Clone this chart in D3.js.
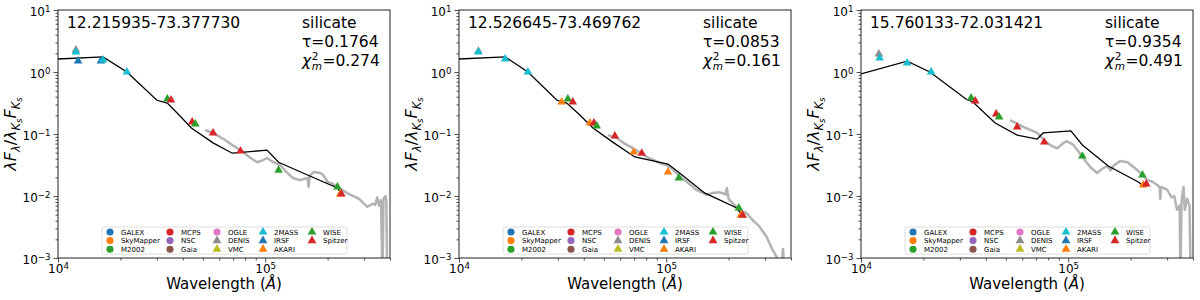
<!DOCTYPE html>
<html>
<head>
<meta charset="utf-8">
<script src="https://cdn.jsdelivr.net/npm/d3@7"></script>
<style>
  body { margin: 0; background: #fff; }
  text { font-family: "DejaVu Sans", sans-serif; }
</style>
</head>
<body>
<svg id="chart" width="1200" height="300"></svg>
<script>
// source labels and fit results
var sourceNames = ["12.215935-73.377730", "12.526645-73.469762", "15.760133-72.031421"];
var dustTypes = ["silicate", "silicate", "silicate"];
var tauValues = ["0.1764", "0.0853", "0.9354"];
var chiValues = ["0.274", "0.161", "0.491"];

// best fit model, [wavelength (A), normalised flux]
var model1 = [[1e4,1.62],[1.65e4,1.75],[2.15e4,1.0],[3.0e4,0.35],[3.37e4,0.316],[3.88e4,0.195],[4.4e4,0.125],
  [5.6e4,0.072],[6.93e4,0.049],[1.02e5,0.055],[1.16e5,0.035],[1.6e5,0.0218],[2.23e5,0.0135],[2.35e5,0.0104]];
var model2 = [[1e4,1.62],[1.67e4,1.75],[2.15e4,1.0],[2.97e4,0.35],[3.31e4,0.316],[3.83e4,0.202],[4.43e4,0.125],
  [5.52e4,0.074],[7.05e4,0.0426],[1.02e5,0.0328],[1.16e5,0.0235],[1.53e5,0.0112],[2.19e5,0.0064],[2.34e5,0.00476]];
var model3 = [[1e4,0.93],[1.67e4,1.5],[2.15e4,1.0],[3.21e4,0.367],[3.47e4,0.328],[4.44e4,0.15],[5.67e4,0.096],
  [7.08e4,0.083],[7.57e4,0.104],[1.03e5,0.112],[1.17e5,0.0665],[1.56e5,0.0305],[2.18e5,0.0168],[2.33e5,0.014]];

// IRS spectra
var spec1 = [[5.13e4,0.116],[5.6e4,0.104],[6.4e4,0.08],[7.0e4,0.065],[7.6e4,0.055],[8.5e4,0.041],[9.15e4,0.035],
  [9.6e4,0.037],[1.02e5,0.041],[1.08e5,0.036],[1.18e5,0.0316],[1.27e5,0.024],[1.36e5,0.0195],[1.47e5,0.018],
  [1.55e5,0.019],[1.6e5,0.0195],[1.62e5,0.014],[1.64e5,0.021],[1.71e5,0.0244],[1.84e5,0.0235],[1.9e5,0.022],
  [2.0e5,0.0168],[2.1e5,0.016],[2.23e5,0.014],[2.4e5,0.012],[2.58e5,0.0104],[2.75e5,0.0095],[2.88e5,0.0086],
  [3.11e5,0.0067],[3.3e5,0.0075],[3.4e5,0.0072],[3.47e5,0.0095],[3.55e5,0.007],[3.62e5,0.0085],[3.68e5,0.0004],
  [3.72e5,0.009],[3.8e5,0.01],[3.84e5,0.0085],[3.88e5,0.0004]];
var spec2 = [[5.23e4,0.096],[5.77e4,0.086],[6.3e4,0.07],[6.9e4,0.059],[7.5e4,0.05],[8.06e4,0.0426],[8.7e4,0.038],
  [9.31e4,0.034],[1.0e5,0.0316],[1.06e5,0.028],[1.12e5,0.0235],[1.2e5,0.019],[1.26e5,0.0168],[1.33e5,0.0145],
  [1.4e5,0.0125],[1.5e5,0.0112],[1.57e5,0.0104],[1.67e5,0.0112],[1.78e5,0.0115],[1.87e5,0.0112],[1.93e5,0.0105],
  [1.96e5,0.0135],[2.0e5,0.009],[2.09e5,0.0077],[2.2e5,0.0065],[2.26e5,0.0059],[2.44e5,0.0053],[2.61e5,0.0041],
  [2.82e5,0.0032],[3.05e5,0.0022],[3.26e5,0.00135],[3.41e5,0.00104],[3.5e5,0.0009],[3.62e5,0.0009],
  [3.66e5,0.0014],[3.7e5,0.0008]];
var spec3 = [[5.25e4,0.168],[6.07e4,0.13],[7.08e4,0.104],[7.5e4,0.085],[7.92e4,0.072],[8.4e4,0.063],[8.85e4,0.059],
  [9.3e4,0.068],[9.78e4,0.077],[1.02e5,0.072],[1.06e5,0.0665],[1.12e5,0.052],[1.18e5,0.041],[1.28e5,0.029],
  [1.38e5,0.0235],[1.45e5,0.027],[1.54e5,0.0305],[1.6e5,0.026],[1.66e5,0.031],[1.78e5,0.0367],[1.93e5,0.035],
  [2.05e5,0.03],[2.15e5,0.0263],[2.41e5,0.018],[2.55e5,0.017],[2.69e5,0.015],[2.76e5,0.014],[2.78e5,0.009],
  [2.8e5,0.014],[3.01e5,0.0125],[3.15e5,0.0095],[3.25e5,0.01],[3.35e5,0.006],[3.45e5,0.007],[3.48e5,0.0004],
  [3.52e5,0.008],[3.6e5,0.014],[3.65e5,0.006],[3.75e5,0.009],[3.85e5,0.007],[3.9e5,0.0004]];

// photometry, [survey, wavelength, flux]
var phot1 = [["DENIS",1.22e4,2.26],["2MASS",1.22e4,2.1],["IRSF",1.25e4,1.5],["IRSF",1.61e4,1.5],["2MASS",1.65e4,1.56],
  ["2MASS",2.15e4,1.0],["WISE",3.37e4,0.367],["Spitzer",3.51e4,0.353],["Spitzer",4.44e4,0.156],["WISE",4.6e4,0.145],
  ["Spitzer",5.6e4,0.104],["Spitzer",7.6e4,0.053],["WISE",1.16e5,0.026],["WISE",2.23e5,0.014],
  ["AKARI",2.3e5,0.0108],["Spitzer",2.33e5,0.0108]];
var phot2 = [["DENIS",1.24e4,2.17],["2MASS",1.24e4,2.1],["2MASS",1.67e4,1.62],["2MASS",2.15e4,1.0],["AKARI",3.13e4,0.328],
  ["WISE",3.35e4,0.367],["Spitzer",3.54e4,0.328],["AKARI",4.28e4,0.15],["Spitzer",4.48e4,0.15],["WISE",4.62e4,0.135],
  ["Spitzer",5.65e4,0.093],["AKARI",6.97e4,0.051],["Spitzer",7.62e4,0.049],["AKARI",1.02e5,0.0244],
  ["WISE",1.15e5,0.0195],["WISE",2.24e5,0.0064],["AKARI",2.29e5,0.0049],["Spitzer",2.34e5,0.0049]];
var phot3 = [["DENIS",1.22e4,1.95],["2MASS",1.23e4,1.68],["2MASS",1.67e4,1.4],["2MASS",2.18e4,1.0],["WISE",3.4e4,0.38],
  ["Spitzer",3.56e4,0.34],["Spitzer",4.49e4,0.21],["WISE",4.64e4,0.188],["Spitzer",5.67e4,0.13],["Spitzer",7.66e4,0.074],
  ["WISE",1.17e5,0.044],["WISE",2.28e5,0.0218],["AKARI",2.3e5,0.015],["Spitzer",2.38e5,0.0156]];

// legend entries
var surveys = ["GALEX","SkyMapper","M2002","MCPS","NSC","Gaia","OGLE","DENIS","VMC","2MASS","IRSF","AKARI","WISE","Spitzer"];
var surveyColors = ["#1f77b4","#ff7f0e","#2ca02c","#d62728","#9467bd","#8c564b","#e377c2",
  "#8c8c8c","#bcbd22","#17becf","#1f77b4","#ff7f0e","#2ca02c","#d62728"];
var surveyShapes = ["circle","circle","circle","circle","circle","circle","circle",
  "triangle","triangle","triangle","triangle","triangle","triangle","triangle"];

// ticks
var xMajor = [1e4, 1e5];
var xMinor = [2e4,3e4,4e4,5e4,6e4,7e4,8e4,9e4,2e5,3e5,4e5];
var yMajor = [1e-3, 1e-2, 1e-1, 1, 10];
var yMinor = [];
[1e-3, 1e-2, 1e-1, 1].forEach(function(b) { for (var k = 2; k <= 9; k++) yMinor.push(b * k); });

var models = [model1, model2, model3];
var spectra = [spec1, spec2, spec3];
var phots = [phot1, phot2, phot3];

var panelLeft = [58, 459, 861];
var panelTop = 10;
var width = 332, height = 248;

var svg = d3.select("#chart");

var x = d3.scaleLog().domain([1e4, 4e5]).range([0, width]);
var y = d3.scaleLog().domain([1e-3, 10]).range([height, 0]);

var line = d3.line().x(function(d) { return x(d[0]); }).y(function(d) { return y(d[1]); });

function supLabel(el, d) {
  var e = Math.round(Math.log10(d));
  el.text(null);
  el.append("tspan").text("10");
  el.append("tspan").attr("dy", "-0.45em").attr("font-size", "0.72em").text(String(e).replace("-", "\u2212"));
}

function markerPath(shape, size) {
  var sym = shape == "circle" ? d3.symbolCircle : d3.symbolTriangle;
  return d3.symbol().type(sym).size(size)();
}

panelLeft.forEach(function(left, i) {
  var g = svg.append("g").attr("transform", "translate(" + left + "," + panelTop + ")");

  g.append("clipPath").attr("id", "clip" + i)
    .append("rect").attr("width", width).attr("height", height);

  var plot = g.append("g").attr("clip-path", "url(#clip" + i + ")");

  plot.append("path")
    .datum(spectra[i])
    .attr("d", line)
    .attr("fill", "none")
    .attr("stroke", "#b3b3b3")
    .attr("stroke-width", 2.5)
    .attr("stroke-linejoin", "round");

  plot.append("path")
    .datum(models[i])
    .attr("d", line)
    .attr("fill", "none")
    .attr("stroke", "#000")
    .attr("stroke-width", 1.3);

  plot.selectAll(".pt")
    .data(phots[i])
    .enter().append("path")
    .attr("class", "pt")
    .attr("transform", function(d) { return "translate(" + x(d[1]) + "," + y(d[2]) + ")"; })
    .attr("d", markerPath("triangle", 32))
    .attr("fill", function(d) { return surveyColors[surveys.indexOf(d[0])]; });

  // axes
  var xa = g.append("g").attr("transform", "translate(0," + height + ")")
    .call(d3.axisBottom(x).tickValues(xMinor).tickSize(2.5).tickFormat(""));
  xa.select(".domain").remove();
  var xb = g.append("g").attr("transform", "translate(0," + height + ")")
    .call(d3.axisBottom(x).tickValues(xMajor).tickSize(4.5).tickPadding(2).tickFormat(""));
  xb.select(".domain").remove();
  xb.attr("font-size", 12).attr("font-family", "DejaVu Sans");
  xb.selectAll(".tick text").attr("fill", "#000").each(function(d) { supLabel(d3.select(this), d); });

  var ya = g.append("g").call(d3.axisLeft(y).tickValues(yMinor).tickSize(2.5).tickFormat(""));
  ya.select(".domain").remove();
  var yb = g.append("g").call(d3.axisLeft(y).tickValues(yMajor).tickSize(4.5).tickPadding(3).tickFormat(""));
  yb.select(".domain").remove();
  yb.attr("font-size", 12).attr("font-family", "DejaVu Sans");
  yb.selectAll(".tick text").attr("fill", "#000").attr("dy", "0.45em").each(function(d) { supLabel(d3.select(this), d); });

  g.selectAll(".tick line").attr("stroke", "#222").attr("stroke-width", 0.8);

  g.append("rect")
    .attr("width", width).attr("height", height)
    .attr("fill", "none").attr("stroke", "#222").attr("stroke-width", 1);

  // axis labels
  var xl = g.append("text")
    .attr("x", width / 2).attr("y", height + 31)
    .attr("text-anchor", "middle").attr("font-size", 15);
  xl.append("tspan").text("Wavelength (");
  xl.append("tspan").attr("font-style", "italic").text("\u00c5");
  xl.append("tspan").text(")");

  var yl = g.append("text")
    .attr("transform", "translate(-42," + (height / 2) + ") rotate(-90)")
    .attr("text-anchor", "middle").attr("font-size", 16);
  yl.append("tspan").attr("font-style", "italic").text("\u03bbF");
  yl.append("tspan").attr("font-style", "italic").attr("font-size", 11.5).attr("dy", 4).text("\u03bb");
  yl.append("tspan").attr("dy", -4).text("/");
  yl.append("tspan").attr("font-style", "italic").text("\u03bb");
  yl.append("tspan").attr("font-style", "italic").attr("font-size", 11.5).attr("dy", 4).text("K");
  yl.append("tspan").attr("font-style", "italic").attr("font-size", 8.5).attr("dy", 2).text("s");
  yl.append("tspan").attr("font-style", "italic").attr("dy", -6).text("F");
  yl.append("tspan").attr("font-style", "italic").attr("font-size", 11.5).attr("dy", 4).text("K");
  yl.append("tspan").attr("font-style", "italic").attr("font-size", 8.5).attr("dy", 2).text("s");

  // annotations
  var fs = 15.5;
  g.append("text").attr("x", 9).attr("y", 18).attr("font-size", fs).text(sourceNames[i]);
  g.append("text").attr("x", 244).attr("y", 18).attr("font-size", fs).text(dustTypes[i]);
  g.append("text").attr("x", 244).attr("y", 37).attr("font-size", fs).text("\u03c4=" + tauValues[i]);

  var chi = g.append("text").attr("x", 244).attr("y", 56).attr("font-size", fs)
    .attr("font-style", "italic").text("\u03c7");
  var cw = chi.node().getComputedTextLength();
  g.append("text").attr("x", 244 + cw + 0.5).attr("y", 49.5).attr("font-size", 10.5).text("2");
  var sub = g.append("text").attr("x", 244 + cw + 0.5).attr("y", 59.5).attr("font-size", 10.5)
    .attr("font-style", "italic").text("m");
  var sw = sub.node().getComputedTextLength();
  g.append("text").attr("x", 244 + cw + sw + 1).attr("y", 56).attr("font-size", fs).text("=" + chiValues[i]);

  // legend
  var lg = g.append("g").attr("transform", "translate(44,217)");
  lg.append("rect").attr("width", 245).attr("height", 27).attr("rx", 2)
    .attr("fill", "#fff").attr("fill-opacity", 0.8).attr("stroke", "#d6d6d6").attr("stroke-width", 0.8);
  var colX = [8, 68, 115, 161, 210];
  surveys.forEach(function(s, k) {
    var cx = colX[Math.floor(k / 3)], cy = 5 + (k % 3) * 8.6;
    lg.append("path")
      .attr("transform", "translate(" + cx + "," + cy + ")")
      .attr("d", markerPath(surveyShapes[k], surveyShapes[k] == "circle" ? 40 : 34))
      .attr("fill", surveyColors[k]);
    lg.append("text").attr("x", cx + 11).attr("y", cy + 2.5).attr("font-size", 7).text(s);
  });
});
</script>
</body>
</html>
